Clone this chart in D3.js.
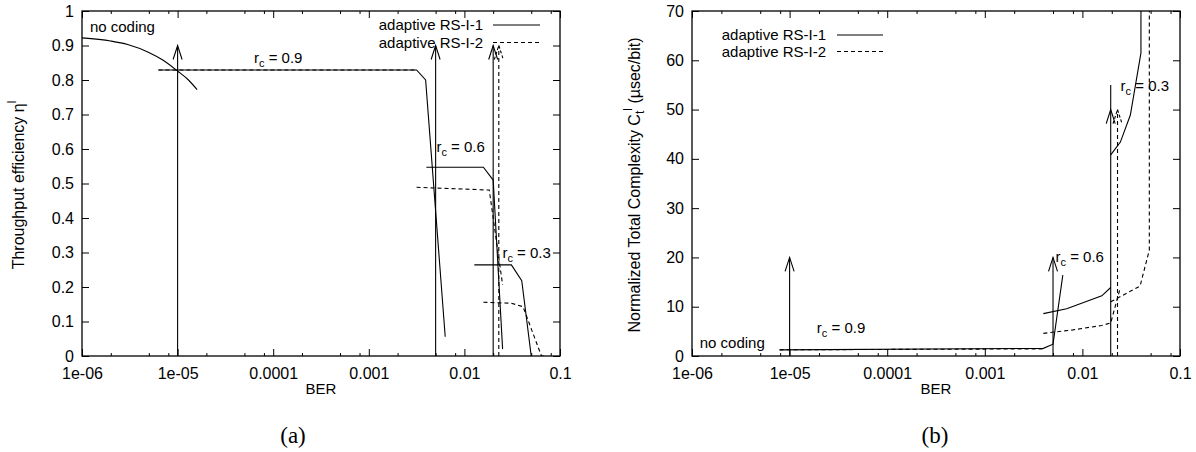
<!DOCTYPE html>
<html>
<head>
<meta charset="utf-8">
<script src="https://cdn.jsdelivr.net/npm/d3@7"></script>
<style>
  body { margin: 0; background: #fff; }
  svg { font-family: "Liberation Sans", Arial, sans-serif; }
</style>
</head>
<body>
<div id="chart"></div>
<script>
// x axis (shared)
const berTicks = [1e-6, 1e-5, 1e-4, 1e-3, 1e-2, 1e-1];
const berLabels = ["1e-06", "1e-05", "0.0001", "0.001", "0.01", "0.1"];
const minorFactors = [2, 5, 8];

// (a) throughput efficiency
const effTicks = [0, 0.1, 0.2, 0.3, 0.4, 0.5, 0.6, 0.7, 0.8, 0.9, 1];
const effNoCoding = [[1e-6, 0.922], [2e-6, 0.913], [3e-6, 0.903], [5e-6, 0.88], [7e-6, 0.858], [1e-5, 0.826], [1.3e-5, 0.8], [1.6e-5, 0.772]];
const effRS1 = [
  [[6.3e-6, 0.829], [3.16e-3, 0.829], [3.93e-3, 0.8], [6.3e-3, 0.056]],
  [[4.0e-3, 0.547], [0.0158, 0.547], [0.02, 0.51], [0.0251, 0.02]],
  [[0.0127, 0.264], [0.031, 0.264], [0.0398, 0.218], [0.05, 0]]
];
const effRS2 = [
  [[6.3e-6, 0.829], [3.16e-3, 0.829]],
  [[3.16e-3, 0.489], [0.0182, 0.481], [0.0251, 0.206]],
  [[0.0158, 0.156], [0.031, 0.153], [0.041, 0.143], [0.064, 0], [0.07, 0]]
];
const effArrows = [
  { ber: 1e-5, top: 0.9, head: 0.9, dash: false },
  { ber: 5e-3, top: 0.9, head: 0.9, dash: false },
  { ber: 0.02, top: 0.9, head: 0.9, dash: false },
  { ber: 0.0229, top: 0.9, head: 0.9, dash: true }
];
const effNotes = [
  { ber: 1.21e-6, v: 0.954, rc: null },
  { ber: 6.3e-5, v: 0.864, rc: "0.9" },
  { ber: 5.1e-3, v: 0.606, rc: "0.6" },
  { ber: 0.025, v: 0.3, rc: "0.3" }
];

// (b) complexity
const cplxTicks = [0, 10, 20, 30, 40, 50, 60, 70];
const cplxRS1 = [
  [[7.9e-6, 1.25], [3.98e-3, 1.55], [5e-3, 2.4], [6.3e-3, 16.4]],
  [[3.98e-3, 8.6], [6.9e-3, 9.6], [0.0158, 12.2], [0.0195, 13.9]],
  [[0.0195, 40.8], [0.0245, 43.4], [0.031, 48.9], [0.0398, 61.5], [0.0398, 75]]
];
const cplxRS2 = [
  [[7.9e-6, 1.25], [3.98e-3, 1.45]],
  [[3.98e-3, 4.6], [0.008, 5.3], [0.0158, 6.2], [0.0195, 6.7], [0.0245, 13.9]],
  [[0.0195, 11.0], [0.039, 14.2], [0.0485, 21.5], [0.0485, 75]]
];
const cplxArrows = [
  { ber: 1e-5, top: 20, head: 20, dash: false },
  { ber: 5e-3, top: 20, head: 20, dash: false },
  { ber: 0.0195, top: 55, head: 50, dash: false },
  { ber: 0.0229, top: 50, head: 50, dash: true }
];
const cplxNotes = [
  { ber: 1.2e-6, v: 2.6, rc: null },
  { ber: 1.9e-5, v: 5.7, rc: "0.9" },
  { ber: 5.3e-3, v: 20.1, rc: "0.6" },
  { ber: 0.0246, v: 54.9, rc: "0.3" }
];

const FS = 15;

const svg = d3.select("#chart").append("svg")
  .attr("width", 1196)
  .attr("height", 452);

function drawPanel(p) {
  const x = d3.scaleLog().domain([1e-6, 0.1]).range([p.left, p.right]);
  const y = d3.scaleLinear().domain(p.yDomain).range([356, 11]);
  const g = svg.append("g");

  const minor = [];
  berTicks.slice(0, -1).forEach(b => minorFactors.forEach(f => minor.push(b * f)));

  // axes: inward ticks on all four sides
  g.append("g").attr("transform", "translate(0,356)")
    .call(d3.axisBottom(x).tickValues(berTicks).tickFormat((d, i) => berLabels[i]).tickSize(-7).tickPadding(12));
  g.append("g").attr("transform", "translate(0,356)")
    .call(d3.axisBottom(x).tickValues(minor).tickFormat("").tickSize(-3));
  g.append("g").attr("transform", "translate(0,11)")
    .call(d3.axisTop(x).tickValues(berTicks).tickFormat("").tickSize(-7));
  g.append("g").attr("transform", "translate(0,11)")
    .call(d3.axisTop(x).tickValues(minor).tickFormat("").tickSize(-3));
  g.append("g").attr("transform", `translate(${p.left},0)`)
    .call(d3.axisLeft(y).tickValues(p.yTicks).tickFormat(d3.format("~g")).tickSize(-7).tickPadding(8));
  g.append("g").attr("transform", `translate(${p.right},0)`)
    .call(d3.axisRight(y).tickValues(p.yTicks).tickFormat("").tickSize(-7));
  g.selectAll(".domain").remove();
  g.selectAll(".tick line").attr("stroke", "#000");
  g.selectAll(".tick text")
    .style("font-family", "'Liberation Sans', Arial, sans-serif")
    .style("font-size", "16px")
    .attr("fill", "#000");

  g.append("rect")
    .attr("x", p.left).attr("y", 11)
    .attr("width", p.right - p.left).attr("height", 345)
    .attr("fill", "none").attr("stroke", "#000").attr("stroke-width", 1.3);

  // clip for the curves
  g.append("clipPath").attr("id", p.id + "-clip")
    .append("rect").attr("x", p.left).attr("y", 11)
    .attr("width", p.right - p.left).attr("height", 345);
  const plot = g.append("g").attr("clip-path", `url(#${p.id}-clip)`);

  const line = d3.line().x(d => x(d[0])).y(d => y(d[1]));

  if (p.noCoding) {
    plot.append("path").datum(p.noCoding)
      .attr("d", line.curve(d3.curveMonotoneX))
      .attr("fill", "none").attr("stroke", "#000").attr("stroke-width", 1.1);
    line.curve(d3.curveLinear);
  }

  plot.selectAll(".rs1").data(p.rs1).join("path")
    .attr("d", line)
    .attr("fill", "none").attr("stroke", "#000").attr("stroke-width", 1.1);
  plot.selectAll(".rs2").data(p.rs2).join("path")
    .attr("d", line)
    .attr("fill", "none").attr("stroke", "#000").attr("stroke-width", 1.1)
    .attr("stroke-dasharray", "4,3");

  // arrows
  p.arrows.forEach(a => {
    const ax = x(a.ber), hy = y(a.head);
    const s = plot.append("g").attr("fill", "none").attr("stroke", "#000").attr("stroke-width", 1.1);
    s.append("line").attr("x1", ax).attr("x2", ax).attr("y1", y(0)).attr("y2", y(a.top))
      .attr("stroke-dasharray", a.dash ? "4,3" : null);
    s.append("path").attr("d", `M${ax - 4.5},${hy + 14}L${ax},${hy}L${ax + 4.5},${hy + 14}`)
      .attr("stroke-dasharray", a.dash ? "3,2" : null);
  });

  // annotations
  p.notes.forEach(n => {
    const t = g.append("text").attr("x", x(n.ber)).attr("y", y(n.v)).attr("dy", "0.35em")
      .attr("font-size", FS);
    if (n.rc === null) {
      t.text("no coding");
    } else {
      t.append("tspan").text("r");
      t.append("tspan").attr("dy", 4).attr("font-size", 11).text("c");
      t.append("tspan").attr("dy", -4).text(" = " + n.rc);
    }
  });

  // legend
  const lg = g.append("g").attr("font-size", FS);
  ["adaptive RS-I-1", "adaptive RS-I-2"].forEach((name, i) => {
    const ly = p.legend.y + i * p.legend.gap;
    lg.append("text").attr("x", p.legend.textEnd).attr("y", ly).attr("dy", "0.35em")
      .attr("text-anchor", "end").text(name);
    lg.append("line").attr("x1", p.legend.x1).attr("x2", p.legend.x2)
      .attr("y1", ly).attr("y2", ly).attr("stroke", "#000").attr("stroke-width", 1.1)
      .attr("stroke-dasharray", i ? "4,3" : null);
  });

  // axis titles
  g.append("text").attr("x", (p.left + p.right) / 2).attr("y", 389).attr("dy", "0.35em")
    .attr("text-anchor", "middle").attr("font-size", FS).text("BER");
  const yl = g.append("text")
    .attr("transform", `translate(${p.yLabelX},${p.yLabelY}) rotate(-90)`)
    .attr("text-anchor", "middle").attr("font-size", 16);
  p.yLabel.forEach(part => {
    const ts = yl.append("tspan").text(part.t);
    if (part.dy) ts.attr("dy", part.dy);
    if (part.small) ts.attr("font-size", 12);
  });

  svg.append("text").attr("x", p.capX).attr("y", 435).attr("dy", "0.35em")
    .attr("text-anchor", "middle").attr("font-family", "'Liberation Serif', serif")
    .attr("font-size", 23).text(p.caption);
}

drawPanel({
  id: "a", left: 82, right: 560, yDomain: [0, 1], yTicks: effTicks,
  noCoding: effNoCoding, rs1: effRS1, rs2: effRS2, arrows: effArrows, notes: effNotes,
  legend: { textEnd: 483, x1: 493, x2: 540, y: 25, gap: 17.5 },
  yLabelX: 24, yLabelY: 185,
  yLabel: [{ t: "Throughput efficiency η" }, { t: "l", dy: -8, small: true }],
  capX: 293, caption: "(a)"
});

drawPanel({
  id: "b", left: 692, right: 1180, yDomain: [0, 70], yTicks: cplxTicks,
  noCoding: null, rs1: cplxRS1, rs2: cplxRS2, arrows: cplxArrows, notes: cplxNotes,
  legend: { textEnd: 826, x1: 837, x2: 883, y: 35, gap: 16.5 },
  yLabelX: 640, yLabelY: 185,
  yLabel: [{ t: "Normalized Total Complexity C" }, { t: "t", dy: 4, small: true }, { t: "l", dy: -12, small: true }, { t: " (µsec/bit)", dy: 8 }],
  capX: 935, caption: "(b)"
});
</script>
</body>
</html>
